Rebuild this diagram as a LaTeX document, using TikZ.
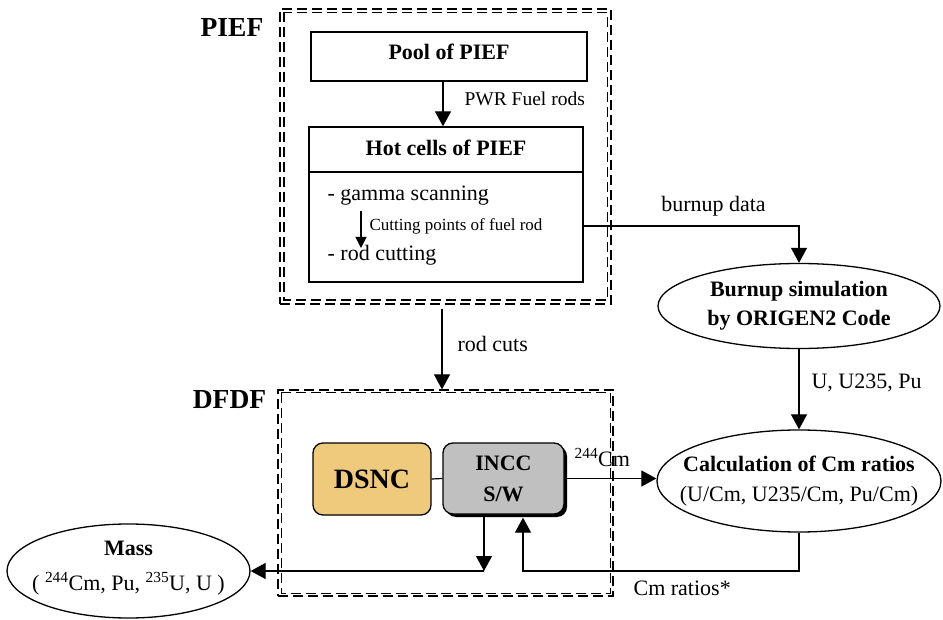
\documentclass[tikz,border=0pt]{standalone}
\usepackage{fontspec}
\setmainfont{Liberation Serif}
\usetikzlibrary{arrows.meta,shadows,calc,shapes.geometric}
\definecolor{dsncfill}{RGB}{240,202,124}
\definecolor{inccfill}{RGB}{192,192,192}
\begin{document}
\begin{tikzpicture}[x=1pt,y=-1pt,
  line width=1.2pt,
  arr/.style={-{Triangle[length=15pt,width=16pt]}},
  sarr/.style={-{Triangle[length=11pt,width=11pt]}},
  txt/.style={inner sep=0pt, text height=0.66em, text depth=0pt, font=\fontsize{22}{26}\selectfont},
  btxt/.style={inner sep=0pt, text height=0.66em, text depth=0pt, font=\fontsize{22}{26}\selectfont\bfseries},
  biglbl/.style={inner sep=0pt, text height=0.66em, text depth=0pt, font=\fontsize{27.5}{30}\selectfont\bfseries},
  dashpat/.style={dash pattern=on 10pt off 5pt, line width=1.3pt},
  dbox/.style={draw, dashpat, inner sep=0pt},
  sbox/.style={draw, inner sep=0pt, line width=1.3pt},
  ell/.style={draw, ellipse, inner sep=0pt, line width=1.3pt},
  rbox/.style={draw, rounded corners=10pt, inner sep=0pt, line width=1.3pt},
]
\useasboundingbox (0,0) rectangle (943,620);

% dashed frames
\node[dbox, minimum width=331pt, minimum height=295pt] (piefbox) at (445.5,156.5) {};
\draw[dashpat] ([shift={(4.5pt,-4pt)}]piefbox.north west) rectangle ([shift={(-4pt,4.5pt)}]piefbox.south east);
\node[dbox, minimum width=335pt, minimum height=206pt] (dfdfbox) at (445.5,493) {};
\draw[dashpat] ([shift={(4pt,-3.5pt)}]dfdfbox.north west) rectangle ([shift={(-3.5pt,3pt)}]dfdfbox.south east);

\node[biglbl] (pieflbl) at (232,33) {PIEF};
\node[biglbl] (dfdflbl) at (229.5,405) {DFDF};

% PIEF content
\node[sbox, minimum width=276pt, minimum height=49pt, btxt] (pool) at (449,56.5) {Pool of PIEF};
\node[sbox, minimum width=274pt, minimum height=155pt] (hot) at (446,204.5) {};
\node[btxt] (hottitle) at (446,152) {Hot cells of PIEF};
\coordinate (hdiv) at (0,172);
\draw[line width=1.3pt] (hot.west |- hdiv) -- (hot.east |- hdiv);
\node[txt, anchor=west] (gamma) at (327,197) {- gamma scanning};
\node[txt, anchor=west] (rodcut) at (327,257) {- rod cutting};
\node[inner sep=0pt, text height=0.66em, text depth=0pt, font=\fontsize{17}{20}\selectfont, anchor=west] (cutlbl) at (369,227) {Cutting points of fuel rod};
\node[inner sep=0pt, text height=0.66em, text depth=0pt, font=\fontsize{19.5}{22}\selectfont, anchor=west] (pwr) at (464,102) {PWR Fuel rods};

% DFDF content
\node[rbox, fill=dsncfill, minimum width=118pt, minimum height=72pt, font=\fontsize{28}{30}\selectfont\bfseries] (dsnc) at (372,479) {DSNC};
\node[rbox, fill=inccfill, minimum width=121pt, minimum height=71pt,
      drop shadow={shadow xshift=3pt, shadow yshift=-3pt, fill=black, opacity=1},
      align=center, font=\fontsize{22}{31}\selectfont\bfseries] (incc) at (503.5,478.5) {INCC\\S/W};

% ellipses
\node[ell, minimum width=282pt, minimum height=85pt] (burn) at (799,306) {};
\node[btxt] (burnt1) at (799,293) {Burnup simulation};
\node[btxt] (burnt2) at (799,322) {by ORIGEN2 Code};
\node[ell, minimum width=284pt, minimum height=102pt] (calc) at (799,481) {};
\node[btxt] (calct1) at (799,468) {Calculation of Cm ratios};
\node[txt] (calct2) at (799,498) {(U/Cm, U235/Cm, Pu/Cm)};
\node[ell, minimum width=243pt, minimum height=94pt] (mass) at (128.5,571) {};
\node[btxt] (masst1) at (128.5,552) {Mass};
\node[txt] (masst2) at (128.5,587) {( \textsuperscript{244}Cm, Pu, \textsuperscript{235}U, U )};

% labels
\node[txt] (bdlbl) at (713.5,208) {burnup data};
\node[txt, anchor=west] (rodcuts) at (457,348) {rod cuts};
\node[txt, anchor=west] (ulbl) at (811,385) {U, U235, Pu};
\node[txt, anchor=west] (cmr) at (633,592) {Cm ratios*};
\node[inner sep=0pt, font=\fontsize{22}{26}\selectfont, anchor=base west] (cm244) at (574,466) {\textsuperscript{244}Cm};

% connectors
\draw[arr] ([xshift=-6pt]pool.south) -- ([xshift=-6pt]pool.south |- hot.north);
\coordinate (ca) at (361,211);
\coordinate (cb) at (361,248);
\draw[sarr] (ca) -- (cb);
\draw[arr] ([yshift=-21.5pt]hot.east) -| (burn.north);
\draw[arr] ([shift={(-3.5pt,-4pt)}]piefbox.south) -- ([xshift=-3.5pt]piefbox.south |- dfdfbox.north);
\draw[arr] (burn.south) -- (calc.north);
\draw (dsnc.east) -- (incc.west);
\draw[arr] (incc.east) -- (incc.east -| calc.west);
\coordinate (j1) at (484,571);
\coordinate (j2) at (523,571);
\draw[arr] (incc.south -| j1) -- (j1);
\draw[arr] (j1) -- (mass.east);
\draw[arr] (calc.south) |- (j2) -- ($(j2 |- incc.south)+(0,3)$);
\end{tikzpicture}
\end{document}
